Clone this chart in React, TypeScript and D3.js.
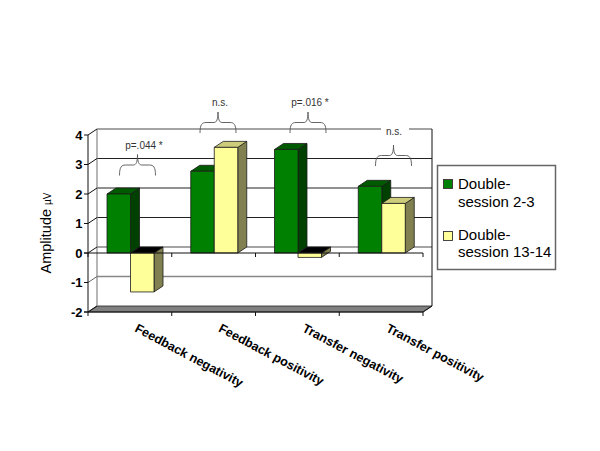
import React from "react";
import * as d3 from "d3";

const categories = ["Feedback negativity", "Feedback positivity", "Transfer negativity", "Transfer positivity"];
const seriesNames = ["Double-session 2-3", "Double-session 13-14"];
const session23 = [2.0, 2.77, 3.51, 2.26];
const session1314 = [-1.32, 3.58, -0.15, 1.68];
const yTicks = [-2, -1, 0, 1, 2, 3, 4];
const blackGrid = [1, 2, 3];
const grayGrid = [-1, 0, 4];
const annotationLabels = ["p=.044 *", "n.s.", "p=.016 *", "n.s."];

const DX = 9;
const DY = -6;
const y = d3.scaleLinear().domain([-2, 4]).range([312, 135]);
const x0 = d3.scaleBand().domain(categories).range([88, 423]);
const x1 = d3.scaleBand().domain(seriesNames).range([19, 66]);

const palette = [
  { front: "#008000", top: "#005a00", side: "#004000" },
  { front: "#ffff99", top: "#cccc7a", side: "#808050" },
];

function poly(pts: [number, number][]) {
  return d3.line()(pts)! + "Z";
}

function bracePath(x: number, w: number, yBottom: number) {
  const p = d3.path();
  const l = x - w / 2, r = x + w / 2;
  const mid = yBottom - 10.5, tip = yBottom - 21;
  p.moveTo(l, yBottom);
  p.bezierCurveTo(l, mid + 2, l + 2, mid, l + 6, mid);
  p.lineTo(x - 4, mid);
  p.bezierCurveTo(x - 1.5, mid, x, mid - 3, x, tip);
  p.bezierCurveTo(x, mid - 3, x + 1.5, mid, x + 4, mid);
  p.lineTo(r - 6, mid);
  p.bezierCurveTo(r - 2, mid, r, mid + 2, r, yBottom);
  return p.toString();
}

const braces = [
  { x: 137.5, yb: 175.5, tx: 144, ty: 149 },
  { x: 218, yb: 133, tx: 220, ty: 106 },
  { x: 308, yb: 133, tx: 310, ty: 106 },
  { x: 393.5, yb: 166, tx: 394, ty: 135 },
];

function Bar({ cat, name, value, idx }: { cat: string; name: string; value: number; idx: number }) {
  const xl = x0(cat)! + x1(name)!;
  const xr = xl + x1.bandwidth();
  const y0 = y(0);
  const yv = y(value);
  const top = Math.min(y0, yv);
  const bottom = Math.max(y0, yv);
  const c = palette[idx];
  const neg = value < 0;
  return (
    <g stroke="#1c1c1c" strokeWidth={0.8} strokeLinejoin="round">
      <path d={poly([[xr, top], [xr + DX, top + DY], [xr + DX, bottom + DY], [xr, bottom]])} fill={c.side} />
      <path d={poly([[xl, top], [xl + DX, top + DY], [xr + DX, top + DY], [xr, top]])} fill={neg ? "#000000" : c.top} />
      <rect x={xl} y={top} width={xr - xl} height={bottom - top} fill={c.front} />
    </g>
  );
}

export default function App() {
  const font = "'Liberation Sans', Arial, sans-serif";
  const xL = 88, xR = 423;
  return (
    <svg width={600} height={451} style={{ position: "absolute", left: 0, top: 0, background: "#fff" }} fontFamily={font}>
      {/* floor */}
      <path d={poly([[xL, y(-2)], [xL + DX, y(-2) + DY], [xR + DX, y(-2) + DY], [xR, y(-2)]])} fill="#808080" stroke="#222" strokeWidth={0.8} />
      {/* back wall grid */}
      {blackGrid.map(v => (
        <line key={v} x1={xL + DX} x2={xR + DX} y1={y(v) + DY} y2={y(v) + DY} stroke="#222" strokeWidth={1} />
      ))}
      {grayGrid.map(v => (
        <line key={v} x1={xL + DX} x2={xR + DX} y1={y(v) + DY} y2={y(v) + DY} stroke="#868686" strokeWidth={1.3} />
      ))}
      <line x1={xL + DX} x2={xL + DX} y1={y(4) + DY} y2={y(-2) + DY} stroke="#868686" strokeWidth={1.2} />
      <line x1={xR + DX} x2={xR + DX} y1={y(4) + DY} y2={y(-2) + DY} stroke="#111" strokeWidth={1} />
      <line x1={xR + DX} x2={xR} y1={y(-2) + DY} y2={y(-2)} stroke="#111" strokeWidth={1} />
      {/* left wall diagonals and axis */}
      {yTicks.map(v => (
        <g key={v} stroke="#111" strokeWidth={1}>
          <line x1={xL} x2={xL + DX} y1={y(v)} y2={y(v) + DY} stroke={v === -1 ? "#666" : "#111"} />
          <line x1={xL - 4} x2={xL} y1={y(v)} y2={y(v)} />
        </g>
      ))}
      <line x1={xL} x2={xL} y1={y(4)} y2={y(-2)} stroke="#111" strokeWidth={1} />
      {/* bars */}
      {categories.map((c, i) => (
        <g key={c}>
          <Bar cat={c} name={seriesNames[0]} value={session23[i]} idx={0} />
          <Bar cat={c} name={seriesNames[1]} value={session1314[i]} idx={1} />
        </g>
      ))}
      {/* front axes */}
      {[0, -2].map(v => (
        <g key={v}>
          <line x1={xL - 4} x2={xR} y1={y(v)} y2={y(v)} stroke="#111" strokeWidth={1} />
          {[...categories.map(c => x0(c)!), xR].map(t => (
            <line key={t} x1={t} x2={t} y1={y(v)} y2={y(v) + 4} stroke="#111" strokeWidth={1} />
          ))}
        </g>
      ))}
      {/* y tick labels */}
      {yTicks.map(v => (
        <text key={v} x={82.5} y={y(v) + 4.5} textAnchor="end" fontSize={13} fontWeight="bold" fill="#000">{v}</text>
      ))}
      {/* y axis title */}
      <text transform="translate(51,233) rotate(-90)" textAnchor="middle" fontSize={14.5} fill="#000">
        Amplitude <tspan fontSize={10}>µV</tspan>
      </text>
      {/* category labels */}
      {categories.map(c => (
        <text key={c} transform={`translate(${x0(c)! + 46},331) rotate(28)`} fontSize={12.6} fontWeight="bold" fill="#000">{c}</text>
      ))}
      {/* annotations */}
      <rect x={381} y={124} width={28} height={10} fill="#fff" />
      {braces.map((b, i) => (
        <g key={i}>
          <path d={bracePath(b.x, 36, b.yb)} fill="none" stroke="#555" strokeWidth={0.9} />
          <text x={b.tx} y={b.ty} textAnchor="middle" fontSize={10} fill="#333">{annotationLabels[i]}</text>
        </g>
      ))}
      {/* legend */}
      <rect x={437.5} y={165.5} width={118} height={104} fill="#fff" stroke="#666" strokeWidth={1.5} />
      <rect x={443.5} y={179.5} width={9} height={9} fill={palette[0].front} stroke="#333" strokeWidth={0.9} />
      <rect x={443.5} y={231.5} width={9} height={9} fill={palette[1].front} stroke="#333" strokeWidth={0.9} />
      <g fontSize={15} fill="#000">
        <text x={458} y={189}>Double-</text>
        <text x={458} y={207}>session 2-3</text>
        <text x={458} y={240}>Double-</text>
        <text x={458} y={257}>session 13-14</text>
      </g>
    </svg>
  );
}
